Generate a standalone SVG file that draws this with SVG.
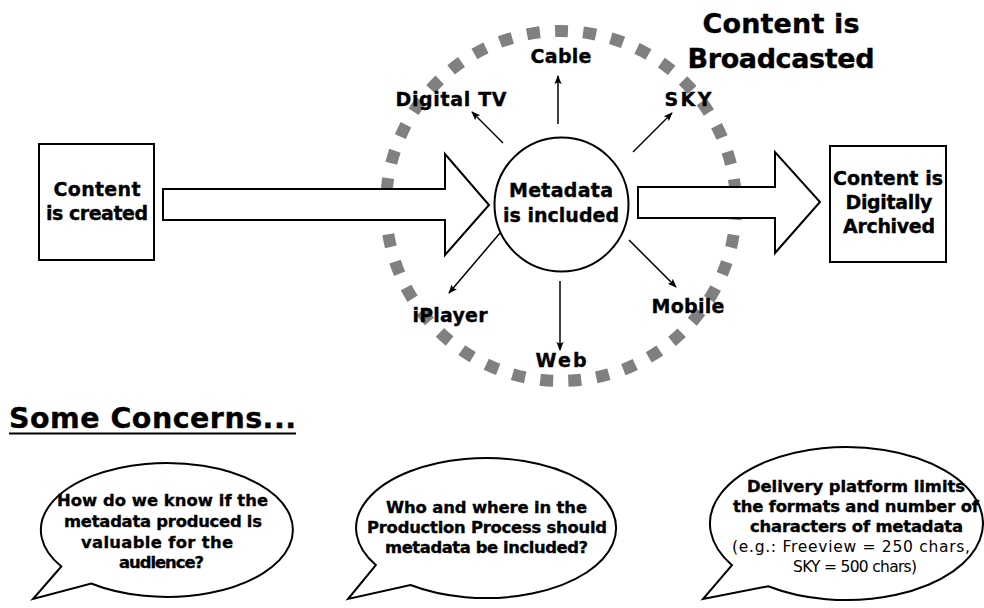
<svg xmlns="http://www.w3.org/2000/svg" width="984" height="608" viewBox="0 0 984 608">
  <style>
    text { font-family: "DejaVu Sans", "Liberation Sans", sans-serif; font-weight: bold; fill: #000; stroke: #000; stroke-width: 0.35px; }
    .box { fill: #fff; stroke: #000; stroke-width: 2; }
    .big { fill: #fff; stroke: #000; stroke-width: 2; stroke-linejoin: miter; }
    .lbl { font-size: 19px; text-anchor: middle; }
    .ch { font-size: 19px; text-anchor: middle; }
    .bub { fill: #fff; stroke: #000; stroke-width: 2; }
    .bt { font-size: 16.4px; text-anchor: middle; }
    .reg { font-weight: normal; font-size: 15.5px; stroke-width: 0; }
    .conn line { stroke: #000; stroke-width: 1.5; marker-end: url(#head); }
  </style>
  <defs>
    <marker id="head" viewBox="0 0 10 10" refX="9" refY="5" markerWidth="9" markerHeight="9" markerUnits="userSpaceOnUse" orient="auto">
      <path d="M0,1 L10,5 L0,9 L2,5 Z" fill="#000"/>
    </marker>
  </defs>
  <rect width="984" height="608" fill="#fff"/>

  <!-- broadcast ring: 39 square dashes, one centred at the top -->
  <circle cx="561" cy="206" r="175" fill="none" stroke="#808080" stroke-width="12" stroke-dasharray="13 15.195" stroke-dashoffset="-0.7"/>

  <!-- flow arrows -->
  <path class="big" d="M163,189 L445,189 L445,154 L489,205 L445,255 L445,220 L163,220 Z"/>
  <path class="big" d="M638,187 L775,187 L775,152 L820,202 L775,253 L775,218 L638,218 Z"/>

  <g id="created">
    <rect class="box" x="39" y="144" width="115" height="116"/>
    <text class="lbl" x="97" y="196" textLength="87">Content</text>
    <text class="lbl" x="97" y="220" textLength="102">is created</text>
  </g>

  <g id="metadata">
    <circle class="box" cx="561.5" cy="204.5" r="67"/>
    <text class="lbl" x="561" y="197" textLength="104">Metadata</text>
    <text class="lbl" x="561" y="222" textLength="116">is included</text>
  </g>

  <g id="archived">
    <rect class="box" x="830" y="146" width="116" height="116"/>
    <text class="lbl" x="888" y="185" textLength="110">Content is</text>
    <text class="lbl" x="889" y="209" textLength="87">Digitally</text>
    <text class="lbl" x="889" y="233" textLength="92">Archived</text>
  </g>

  <g id="broadcast-title">
    <text x="781" y="33" textLength="157" style="font-size:27px;text-anchor:middle">Content is</text>
    <text x="781" y="68" textLength="187" style="font-size:27px;text-anchor:middle">Broadcasted</text>
  </g>

  <g id="cable"><text class="ch" x="561" y="63" textLength="61">Cable</text></g>
  <g id="digital-tv"><text class="ch" x="451" y="106" textLength="111">Digital TV</text></g>
  <g id="sky"><text class="ch" x="688" y="106" textLength="47">SKY</text></g>
  <g id="iplayer"><text class="ch" x="450" y="322" textLength="75">iPlayer</text></g>
  <g id="web"><text class="ch" x="561" y="367" textLength="51">Web</text></g>
  <g id="mobile"><text class="ch" x="688" y="313" textLength="73">Mobile</text></g>

  <g class="conn">
    <line x1="558" y1="124" x2="558" y2="76"/>
    <line x1="503" y1="143" x2="472" y2="112"/>
    <line x1="633" y1="152" x2="672" y2="113"/>
    <line x1="500" y1="233" x2="449" y2="293"/>
    <line x1="560" y1="281" x2="560" y2="350"/>
    <line x1="629" y1="240" x2="676" y2="287"/>
  </g>

  <g id="concerns-title">
    <text x="9" y="428" textLength="287" style="font-size:28.5px">Some Concerns...</text>
    <line x1="9" y1="433.5" x2="296" y2="433.5" stroke="#000" stroke-width="2"/>
  </g>

  <g id="concern-1">
    <path class="bub" d="M91.2,583.5 A126,67 0 1 0 61.3,566.5 L33,599 Z"/>
    <text class="bt" x="162.5" y="506" textLength="211">How do we know if the</text>
    <text class="bt" x="163" y="527" textLength="198">metadata produced is</text>
    <text class="bt" x="157" y="548" textLength="152">valuable for the</text>
    <text class="bt" x="161.5" y="568" textLength="85">audience?</text>
  </g>

  <g id="concern-2">
    <path class="bub" d="M410.5,585 A130,70 0 1 0 375.8,565.1 L348,599 Z"/>
    <text class="bt" x="486.5" y="513" textLength="201">Who and where in the</text>
    <text class="bt" x="487" y="533" textLength="240">Production Process should</text>
    <text class="bt" x="486.5" y="553" textLength="203">metadata be included?</text>
  </g>

  <g id="concern-3">
    <path class="bub" d="M768.2,586.2 A136.5,76.5 0 1 0 732,565.2 L703,599 Z"/>
    <text class="bt" x="856" y="492" textLength="218">Delivery platform limits</text>
    <text class="bt" x="856" y="512" textLength="246">the formats and number of</text>
    <text class="bt" x="856.5" y="532" textLength="213">characters of metadata</text>
    <text class="bt reg" x="851" y="552" textLength="238">(e.g.: Freeview = 250 chars,</text>
    <text class="bt reg" x="855" y="572" textLength="124">SKY = 500 chars)</text>
  </g>
</svg>
